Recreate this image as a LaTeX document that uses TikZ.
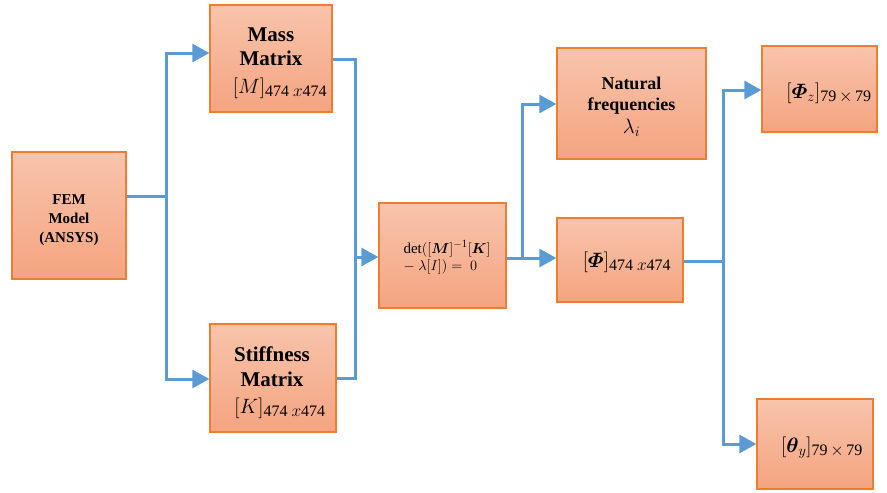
\documentclass[tikz,border=0pt]{standalone}
\usepackage{amsmath}
\usepackage{fontspec}
\setmainfont{Liberation Serif}
\usetikzlibrary{arrows.meta}
\definecolor{boxtop}{RGB}{248,196,172}
\definecolor{boxbot}{RGB}{244,164,128}
\definecolor{boxedge}{RGB}{237,125,49}
\definecolor{conn}{RGB}{91,155,213}
\newcommand{\subsz}[1]{\text{\fontsize{16}{16}\selectfont #1}}
\tikzset{
  box/.style={draw=boxedge, line width=1.3pt, top color=boxtop, bottom color=boxbot, align=center, inner sep=0pt},
  ln/.style={draw=conn, line width=3pt},
  arr/.style={draw=conn, line width=3pt, -{Triangle[length=17pt,width=18pt]}},
  bigb/.style={anchor=base, font=\bfseries\fontsize{21}{24}\selectfont},
  femt/.style={anchor=base, font=\bfseries\fontsize{15}{19}\selectfont},
  mth/.style={anchor=base, font=\fontsize{21}{24}\selectfont},
}
\begin{document}
\begin{tikzpicture}[x=1pt,y=-1pt]
\useasboundingbox (0,0) rectangle (887,493);
% boxes
\node[box, minimum width=114, minimum height=127] (fem) at (69,215.5) {};
\node[box, minimum width=122, minimum height=107] (mass) at (271,58.5) {};
\node[box, minimum width=126, minimum height=108] (stiff) at (273,378) {};
\node[box, minimum width=127, minimum height=105] (det) at (442.5,255.5) {};
\node[box, minimum width=149, minimum height=111] (nat) at (631.5,103.5) {};
\node[box, minimum width=126, minimum height=84] (phi) at (620,260) {};
\node[box, minimum width=115, minimum height=86] (phiz) at (819.5,89) {};
\node[box, minimum width=116, minimum height=90] (thy) at (815,444) {};
% texts
\node[femt] (femA) at (69,204) {FEM};
\node[femt] (femB) at (69,223) {Model};
\node[femt] (femC) at (69,242) {(ANSYS)};
\node[bigb] (massA) at (271,41) {Mass};
\node[bigb] (massB) at (271,65) {Matrix};
\node[mth] (massC) at (280,93) {$[M]_{\subsz{474 $x$474}}$};
\node[bigb] (stA) at (272,361) {Stiffness};
\node[bigb] (stB) at (272,386) {Matrix};
\node[mth] (stC) at (280,413) {$[K]_{\subsz{474 $x$474}}$};
\node[anchor=base west, font=\fontsize{15}{18}\selectfont] (detA) at (400,253) {$\det([\boldsymbol{M}]^{-1}[\boldsymbol{K}]$};
\node[anchor=base west, font=\fontsize{15}{18}\selectfont] (detB) at (400,270) {$-\ \lambda[I]) =\ 0$};
\node[anchor=base, font=\bfseries\fontsize{18}{21}\selectfont] (natA) at (631.5,89) {Natural};
\node[anchor=base, font=\bfseries\fontsize{18}{21}\selectfont] (natB) at (631.5,110) {frequencies};
\node[anchor=base, font=\fontsize{20}{22}\selectfont] (natC) at (631.5,133) {$\lambda_i$};
\node[mth, font=\fontsize{22}{24}\selectfont] (phiT) at (627,267) {$[\boldsymbol{\varPhi}]_{\subsz{474 $x$474}}$};
\node[mth, font=\fontsize{22}{24}\selectfont] (phizT) at (829,98) {$[\boldsymbol{\varPhi}_z]_{\subsz{79\,$\times$\,79}}$};
\node[mth, font=\fontsize{22}{24}\selectfont] (thyT) at (822,452) {$[\boldsymbol{\theta}_y]_{\subsz{79\,$\times$\,79}}$};
% junction coordinates
\coordinate (jA) at (166,196);
\coordinate (mIn) at (166,53);
\coordinate (kIn) at (166,379);
\coordinate (mB) at (355,59);
\coordinate (kB) at (355,378);
\coordinate (dIn) at (355,257);
\coordinate (dOut) at (522,258);
\coordinate (nIn) at (522,104);
\coordinate (pOut) at (723,261);
\coordinate (zIn) at (723,90);
\coordinate (tIn) at (723,444);
% connectors
\draw[ln] (fem.east |- jA) -- (jA);
\draw[arr] (jA) |- (mass.west |- mIn);
\draw[arr] (jA) |- (stiff.west |- kIn);
\draw[ln] (mass.east |- mB) -| (dIn);
\draw[ln] (stiff.east |- kB) -| (dIn);
\draw[arr] (dIn) -- (det.west |- dIn);
\draw[ln] (det.east |- dOut) -- (dOut);
\draw[arr] (dOut) -- (phi.west |- dOut);
\draw[arr] (dOut) |- (nat.west |- nIn);
\draw[ln] (phi.east |- pOut) -- (pOut);
\draw[arr] (pOut) |- (phiz.west |- zIn);
\draw[arr] (pOut) |- (thy.west |- tIn);
\end{tikzpicture}
\end{document}
